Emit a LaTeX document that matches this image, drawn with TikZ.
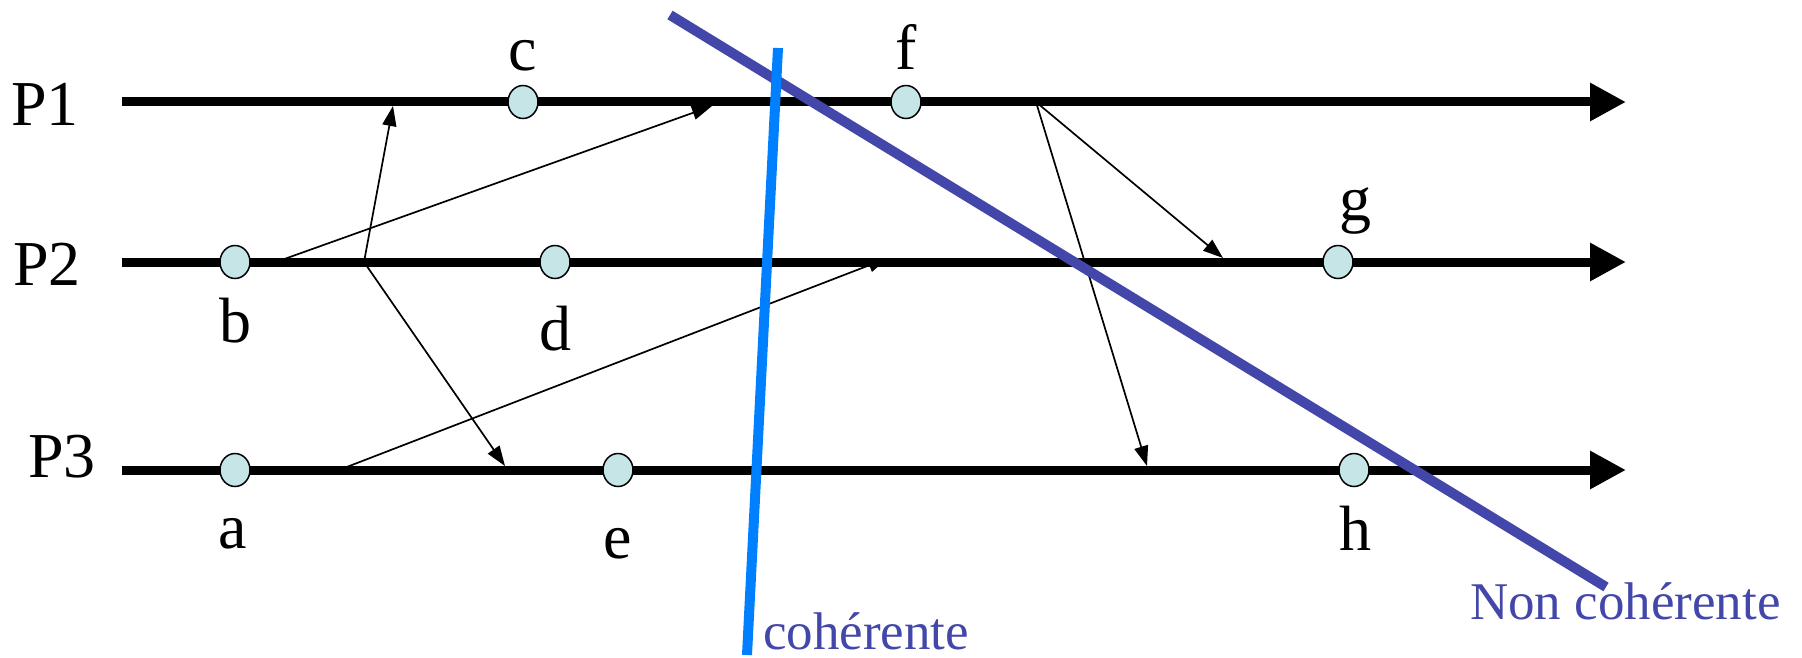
\documentclass[tikz,border=0pt]{standalone}
\usepackage{fontspec}
\setmainfont{Liberation Serif}
\usetikzlibrary{positioning,arrows.meta,shapes.geometric}
\definecolor{evfill}{HTML}{C5E5E7}
\definecolor{cutblue}{HTML}{0080FF}
\definecolor{cutpurple}{HTML}{4347A9}

\begin{document}
\begin{tikzpicture}[
    x=1pt, y=-1pt,
    proc/.style={line width=9pt, -{Triangle[length=36pt,width=36pt]}},
    event/.style={ellipse, draw, line width=1.5pt, fill=evfill, minimum width=30pt, minimum height=33pt, inner sep=0pt},
    lbl/.style={font=\fontsize{64}{72}\selectfont, anchor=base, inner sep=0pt},
    msg/.style={line width=1.7pt, -{Triangle[length=20pt,width=14pt]}},
    cut/.style={line width=10pt},
    cutlbl/.style={font=\fontsize{53}{60}\selectfont, text=cutpurple, anchor=base west, inner sep=0pt}
]
    \useasboundingbox (0,0) rectangle (1802,658);

    \node (P1) [lbl] at (45,126) {P1};
    \node (P2) [lbl] at (47,285) {P2};
    \node (P3) [lbl] at (62,477) {P3};

    \coordinate (p1s) at (122,102);
    \coordinate (p1e) at (1626,102);
    \coordinate (p2s) at (122,262);
    \coordinate (p2e) at (1626,262);
    \coordinate (p3s) at (122,470);
    \coordinate (p3e) at (1626,470);
    \draw [proc] (p1s) -- (p1e);
    \draw [proc] (p2s) -- (p2e);
    \draw [proc] (p3s) -- (p3e);

    \coordinate (m1s) at (364,262);
    \coordinate (m1e) at (393,106);
    \coordinate (m2e) at (505,466);
    \coordinate (m3s) at (276,262);
    \coordinate (m3e) at (712,106);
    \coordinate (m4s) at (339,470);
    \coordinate (m4e) at (888,258);
    \coordinate (m5s) at (1036,102);
    \coordinate (m5e) at (1223,258);
    \coordinate (m6e) at (1147,466);
    \draw [msg] (m1s) -- (m1e);
    \draw [msg] (m1s) -- (m2e);
    \draw [msg] (m3s) -- (m3e);
    \draw [msg] (m4s) -- (m4e);
    \draw [msg] (m5s) -- (m5e);
    \draw [msg] (m5s) -- (m6e);

    \node (c) [event] at (523,102) {};
    \node (f) [event] at (906,102) {};
    \node (b) [event] at (235,262) {};
    \node (d) [event] at (555,262) {};
    \node (g) [event] at (1338,262) {};
    \node (a) [event] at (235,470) {};
    \node (e) [event] at (618,470) {};
    \node (h) [event] at (1354,470) {};

    \node (lc) [lbl] at (523,71) {c};
    \node (lf) [lbl] at (906,70) {f};
    \node (lb) [lbl] at (235,342) {b};
    \node (ld) [lbl] at (555,350) {d};
    \node (lg) [lbl] at (1355,220) {g};
    \node (la) [lbl] at (233,548) {a};
    \node (le) [lbl] at (618,558) {e};
    \node (lh) [lbl] at (1355,550) {h};

    \coordinate (nctop) at (670,15);
    \coordinate (ncbot) at (1606,587);
    \coordinate (cotop) at (778,48);
    \coordinate (cobot) at (747,655);
    \draw [cut, cutpurple] (nctop) -- (ncbot);
    \draw [cut, cutblue] (cotop) -- (cobot);

    \node (ncl) [cutlbl] at (1470,619) {Non cohérente};
    \node (col) [cutlbl] at (763,649) {cohérente};
\end{tikzpicture}
\end{document}
